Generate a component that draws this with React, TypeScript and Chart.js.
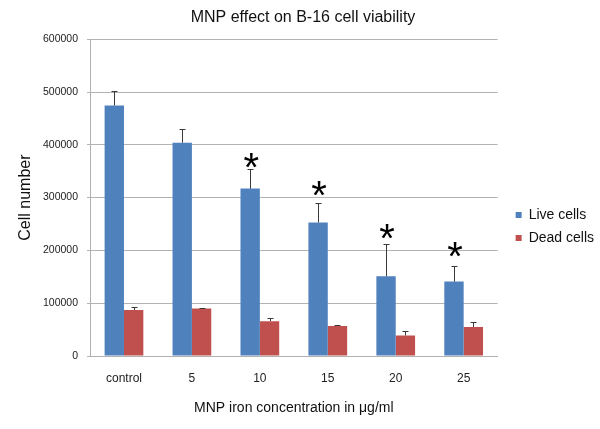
import React, { useEffect, useRef } from "react";
import { Chart, registerables } from "chart.js";

Chart.register(...registerables);

const categories = ["control", "5", "10", "15", "20", "25"];
const liveCells = [474500, 404000, 317000, 253000, 151000, 141000];
const liveErr = [27000, 26000, 38000, 36000, 61000, 29000];
const deadCells = [87000, 90000, 66000, 57000, 39000, 55000];
const deadErr = [6000, 1000, 6000, 1000, 8000, 9000];
// level (in cell-number units) of the significance asterisk above each live bar
const markerLevels = [null, null, 373000, 319000, 238500, 204000];
const yTicks = [0, 100000, 200000, 300000, 400000, 500000, 600000];

const FONT = "'Liberation Sans', Arial, sans-serif";

const errorBarPlugin = {
  id: "errorBars",
  afterDatasetsDraw(chart: any) {
    const ctx = chart.ctx;
    const yScale = chart.scales.y;
    const errs = [liveErr, deadErr];
    ctx.save();
    ctx.strokeStyle = "#3a3a3a";
    ctx.lineWidth = 1;
    chart.data.datasets.forEach((ds: any, di: number) => {
      const meta = chart.getDatasetMeta(di);
      meta.data.forEach((bar: any, i: number) => {
        const v = ds.data[i];
        const e = errs[di][i];
        const x = Math.round(bar.x) + 0.5;
        const yTop = Math.round(yScale.getPixelForValue(v + e)) + 0.5;
        const yBar = yScale.getPixelForValue(v);
        ctx.beginPath();
        ctx.moveTo(x, yBar);
        ctx.lineTo(x, yTop);
        ctx.moveTo(x - 3, yTop);
        ctx.lineTo(x + 3, yTop);
        ctx.stroke();
      });
    });
    // asterisks
    const meta0 = chart.getDatasetMeta(0);
    ctx.fillStyle = "#000";
    ctx.font = "40px " + FONT;
    ctx.textAlign = "center";
    ctx.textBaseline = "alphabetic";
    markerLevels.forEach((lvl, i) => {
      if (lvl == null) return;
      const x = meta0.data[i].x + 1;
      const yc = yScale.getPixelForValue(lvl);
      ctx.fillText("*", x, yc + 0.54 * 40);
    });
    ctx.restore();
  },
};

const legendShiftPlugin = {
  id: "legendShift",
  beforeDraw(chart: any) {
    const lg = chart.legend;
    if (!lg) return;
    const w = lg.right - lg.left;
    lg.left = chart.chartArea.right + 9;
    lg.right = lg.left + w;
  },
};

export default function App() {
  const ref = useRef<HTMLCanvasElement>(null);
  useEffect(() => {
    const chart = new Chart(ref.current as HTMLCanvasElement, {
      type: "bar",
      data: {
        labels: categories,
        datasets: [
          {
            label: "Live cells",
            data: liveCells,
            backgroundColor: "#4F81BD",
            categoryPercentage: 0.57,
            barPercentage: 1.0,
          },
          {
            label: "Dead cells",
            data: deadCells,
            backgroundColor: "#C0504D",
            categoryPercentage: 0.57,
            barPercentage: 1.0,
          },
        ],
      },
      options: {
        responsive: false,
        animation: false,
        layout: { padding: { left: 11, right: 5, top: 0, bottom: 0 } },
        plugins: {
          title: {
            display: true,
            text: "MNP effect on B-16 cell viability",
            color: "#111",
            font: { size: 16, family: FONT, weight: "normal" },
            padding: { top: 8, bottom: 12 },
          },
          legend: {
            position: "right",
            title: {
              display: true,
              text: " ",
              font: { size: 10, family: FONT },
              padding: 6,
            },
            labels: {
              boxWidth: 6,
              boxHeight: 6,
              padding: 9,
              color: "#111",
              font: { size: 14, family: FONT },
            },
          },
          tooltip: { enabled: false },
        },
        scales: {
          x: {
            grid: { display: false, drawTicks: false },
            border: { display: true, color: "#b0b0b0", width: 1 },
            ticks: {
              color: "#222",
              font: { size: 12, family: FONT },
              padding: 15,
            },
            title: {
              display: true,
              text: "MNP iron concentration in μg/ml",
              color: "#111",
              font: { size: 14, family: FONT },
              padding: { top: 0, bottom: 12 },
            },
            afterFit: (scale: any) => {
              scale.height = 73;
            },
          },
          y: {
            min: 0,
            max: 600000,
            afterBuildTicks: (scale: any) => {
              scale.ticks = yTicks.map((v) => ({ value: v }));
            },
            grid: { color: "#b3b3b3", tickLength: 3, lineWidth: 1 },
            border: { display: true, color: "#b0b0b0" },
            ticks: {
              color: "#222",
              font: { size: 10.5, family: FONT },
              padding: 9,
              callback: (v: any) => String(v),
            },
            title: {
              display: true,
              text: "Cell number",
              color: "#111",
              font: { size: 16, family: FONT },
              padding: { top: 5, bottom: 0 },
            },
            afterFit: (scale: any) => {
              scale.width = 79;
            },
          },
        },
      },
      plugins: [errorBarPlugin, legendShiftPlugin],
    } as any);
    return () => chart.destroy();
  }, []);
  return (
    <div style={{ position: "fixed", left: 0, top: 0, width: 600, height: 429, background: "#fff" }}>
      <canvas ref={ref} width={600} height={429} />
    </div>
  );
}
